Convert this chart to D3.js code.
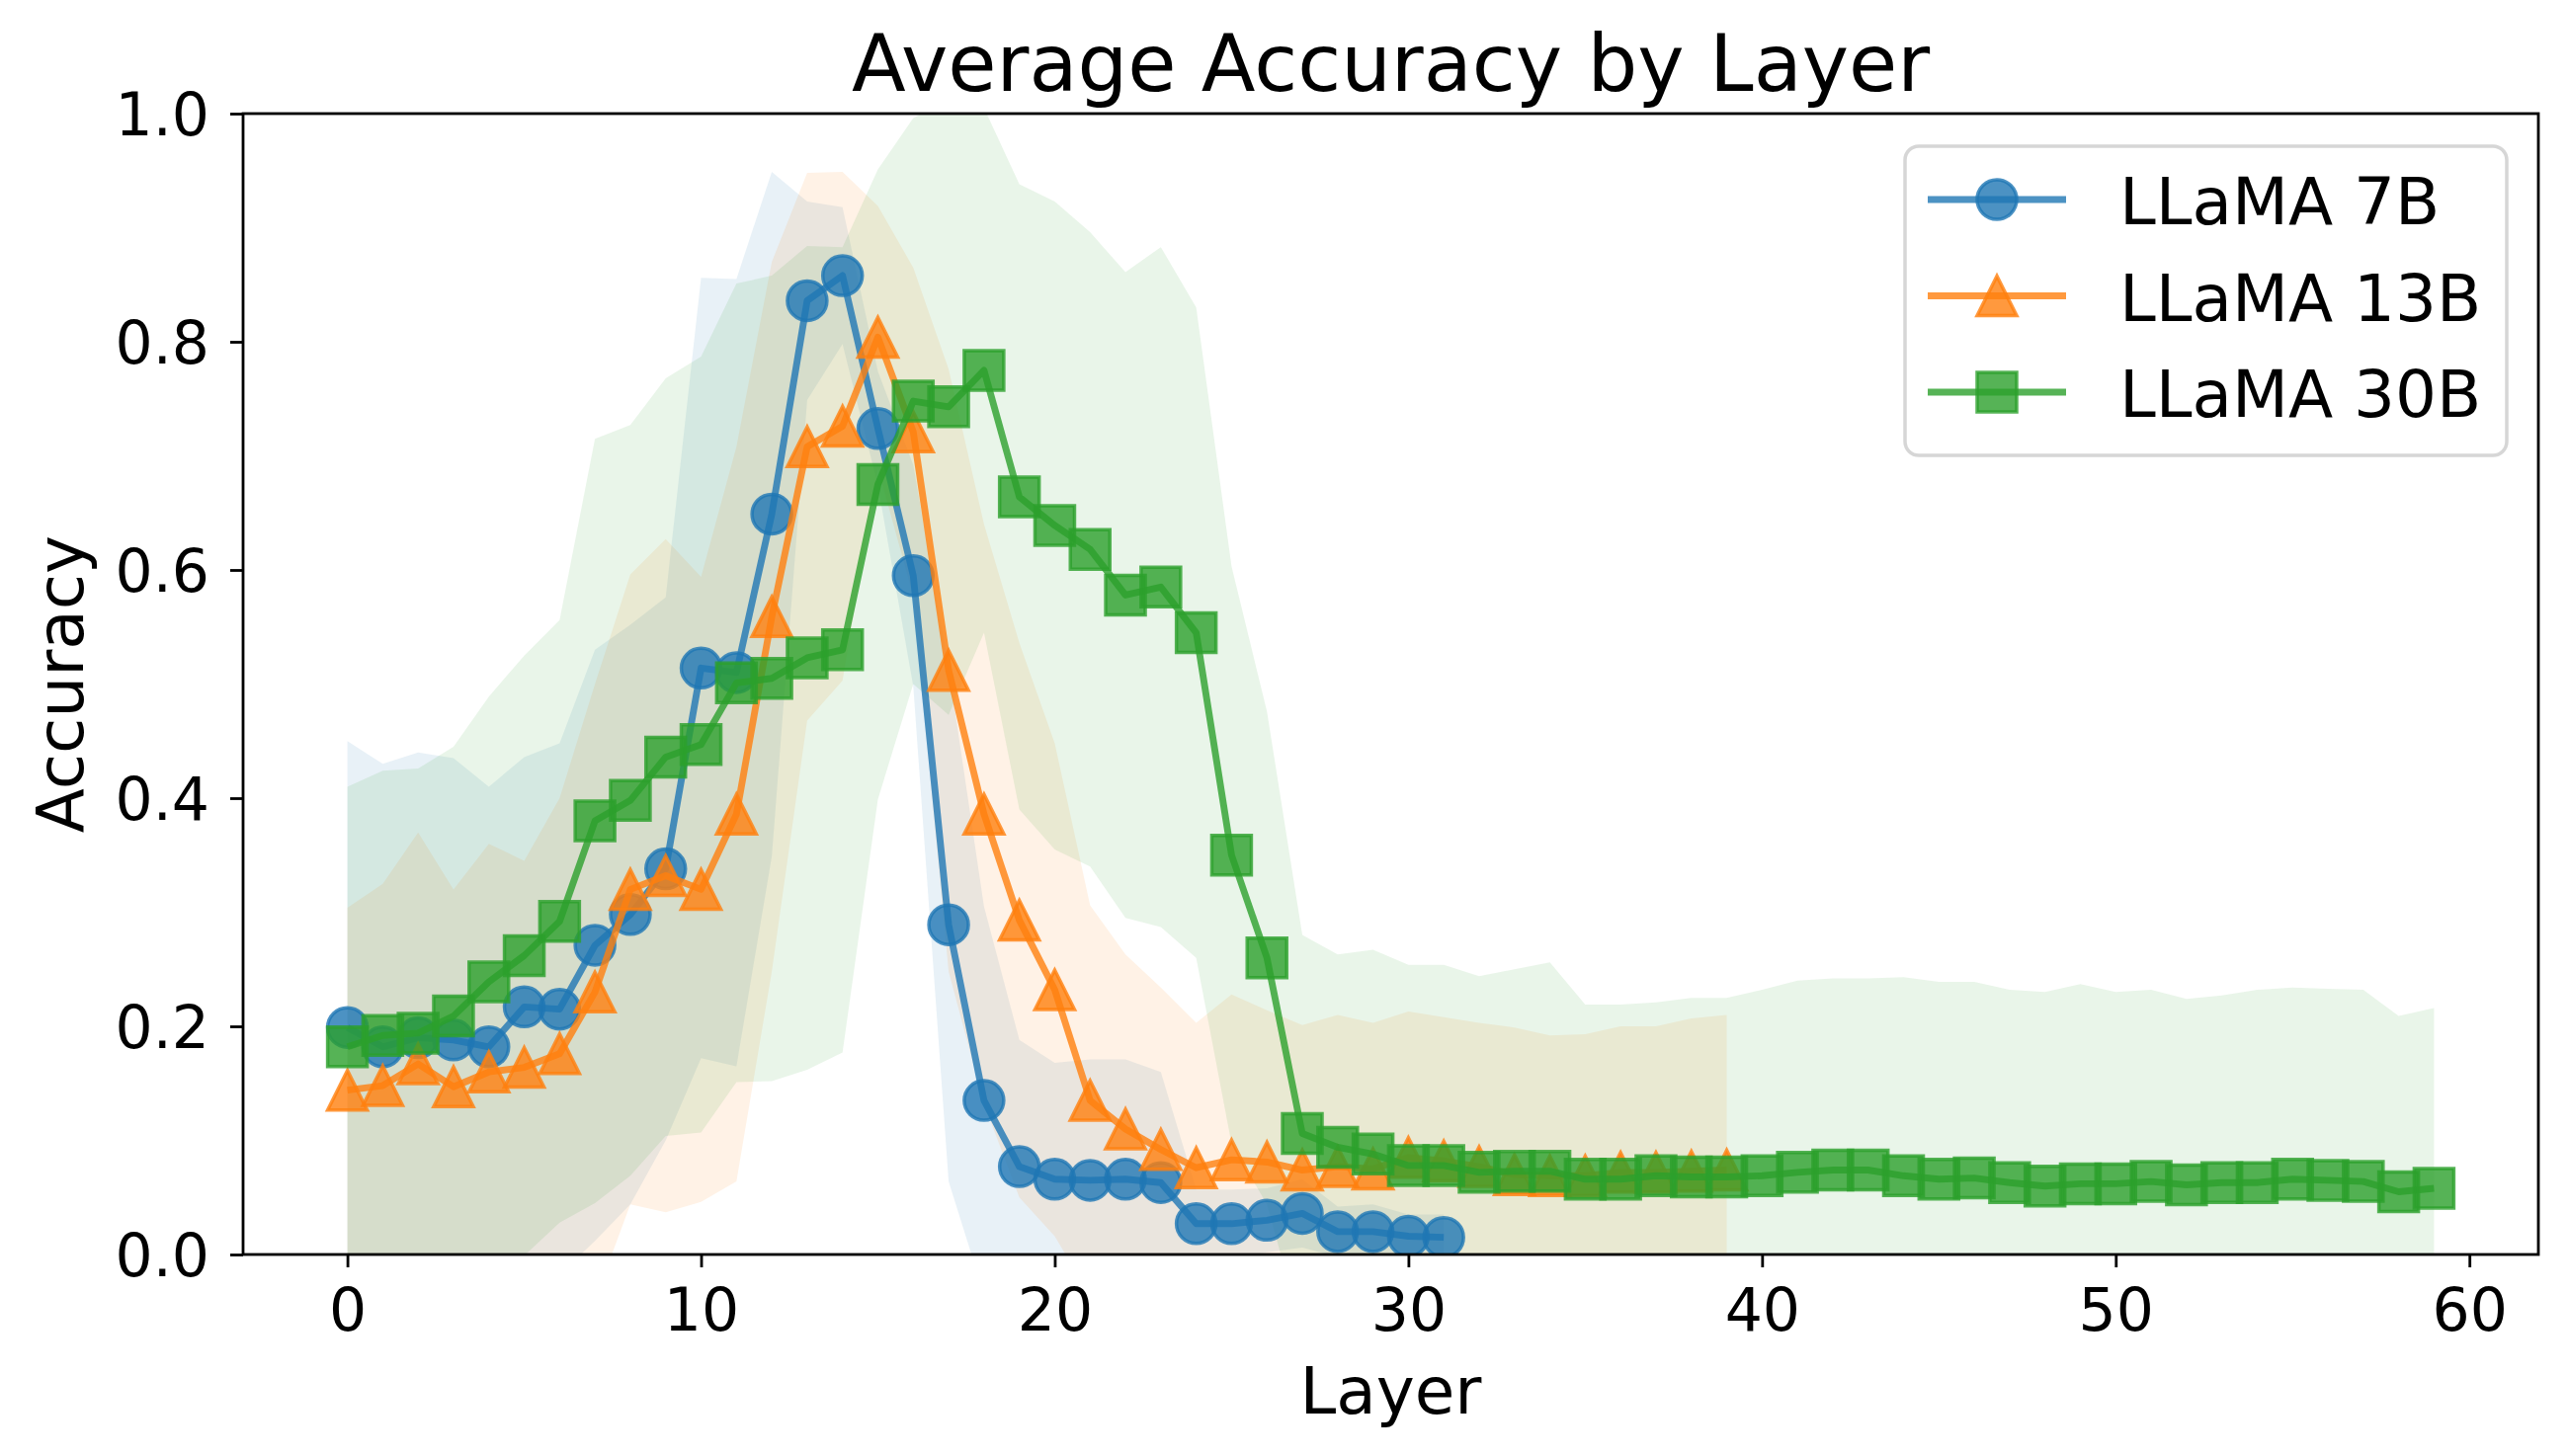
<!DOCTYPE html>
<html><head><meta charset="utf-8">
<script src="https://cdn.jsdelivr.net/npm/d3@7"></script>
<style>
body{margin:0;background:#fff;}
svg{display:block;}
text{font-family:"DejaVu Sans",sans-serif;fill:#000;}
</style>
</head><body>
<script>
// ---------- data ----------
const seriesNames = ["LLaMA 7B", "LLaMA 13B", "LLaMA 30B"];

const acc7B = [0.199, 0.182, 0.190, 0.188, 0.182, 0.217, 0.215, 0.271, 0.298, 0.338,
  0.514, 0.510, 0.649, 0.836, 0.858, 0.724, 0.595, 0.289, 0.135, 0.077,
  0.066, 0.065, 0.066, 0.063, 0.027, 0.027, 0.030, 0.036, 0.020, 0.020,
  0.016, 0.015];
const std7B = [0.251, 0.248, 0.250, 0.247, 0.228, 0.219, 0.233, 0.259, 0.254, 0.238,
  0.342, 0.345, 0.300, 0.087, 0.060, 0.050, 0.097, 0.225, 0.170, 0.111,
  0.102, 0.106, 0.105, 0.097, 0.030, 0.030, 0.028, 0.030, 0.022, 0.024,
  0.019, 0.020];

const acc13B = [0.144, 0.148, 0.167, 0.147, 0.160, 0.164, 0.176, 0.230, 0.320, 0.332,
  0.320, 0.386, 0.559, 0.708, 0.726, 0.804, 0.721, 0.512, 0.386, 0.293,
  0.232, 0.135, 0.110, 0.092, 0.076, 0.083, 0.081, 0.074, 0.077, 0.075,
  0.085, 0.082, 0.077, 0.070, 0.069, 0.069, 0.072, 0.072, 0.073, 0.074];
const std13B = [0.160, 0.177, 0.203, 0.173, 0.200, 0.181, 0.224, 0.270, 0.276, 0.295,
  0.274, 0.322, 0.311, 0.240, 0.223, 0.115, 0.144, 0.264, 0.254, 0.243,
  0.216, 0.171, 0.153, 0.142, 0.127, 0.145, 0.133, 0.127, 0.133, 0.128,
  0.128, 0.126, 0.126, 0.129, 0.123, 0.124, 0.128, 0.128, 0.134, 0.136];

const acc30B = [0.182, 0.192, 0.194, 0.209, 0.239, 0.262, 0.292, 0.380, 0.398, 0.436,
  0.447, 0.501, 0.505, 0.523, 0.530, 0.675, 0.748, 0.743, 0.775, 0.664,
  0.639, 0.618, 0.578, 0.585, 0.545, 0.350, 0.260, 0.106, 0.094, 0.088,
  0.078, 0.078, 0.072, 0.073, 0.073, 0.066, 0.066, 0.069, 0.068, 0.068,
  0.069, 0.072, 0.074, 0.074, 0.069, 0.066, 0.067, 0.063, 0.060, 0.062,
  0.062, 0.064, 0.061, 0.063, 0.063, 0.066, 0.065, 0.064, 0.055, 0.058];
const std30B = [0.228, 0.232, 0.232, 0.236, 0.250, 0.263, 0.264, 0.335, 0.329, 0.332,
  0.340, 0.350, 0.353, 0.361, 0.353, 0.276, 0.248, 0.270, 0.230, 0.274,
  0.284, 0.278, 0.283, 0.298, 0.285, 0.253, 0.216, 0.174, 0.169, 0.179,
  0.176, 0.176, 0.172, 0.177, 0.183, 0.153, 0.153, 0.152, 0.157, 0.157,
  0.163, 0.168, 0.168, 0.168, 0.174, 0.173, 0.172, 0.169, 0.170, 0.175,
  0.168, 0.168, 0.163, 0.164, 0.169, 0.168, 0.168, 0.168, 0.154, 0.158];

const xTicks = [0, 10, 20, 30, 40, 50, 60];
const yTicks = [0.0, 0.2, 0.4, 0.6, 0.8, 1.0];
const colors = ["#1f77b4", "#ff7f0e", "#2ca02c"];
const markers = ["circle", "triangle", "square"];

// ---------- layout ----------
const W = 2600, H = 1474;
const L = 246, R = 2569, T = 115, B = 1270;
const LW = 6.9, MS = 40, MEW = 3.5;

const series = [
  {name: seriesNames[0], acc: acc7B, std: std7B, color: colors[0], marker: markers[0]},
  {name: seriesNames[1], acc: acc13B, std: std13B, color: colors[1], marker: markers[1]},
  {name: seriesNames[2], acc: acc30B, std: std30B, color: colors[2], marker: markers[2]}
];

const x = d3.scaleLinear().domain([-2.95, 61.95]).range([L, R]);
const y = d3.scaleLinear().domain([0, 1]).range([B, T]);

const svg = d3.select("body").append("svg")
  .attr("width", W).attr("height", H).attr("viewBox", `0 0 ${W} ${H}`);

svg.append("defs").append("clipPath").attr("id", "plotclip")
  .append("rect").attr("x", L).attr("y", T).attr("width", R - L).attr("height", B - T);

const plot = svg.append("g").attr("clip-path", "url(#plotclip)");

function markerPath(type, s) {
  const h = s / 2;
  if (type === "circle") return d3.arc()({innerRadius: 0, outerRadius: h, startAngle: 0, endAngle: 2 * Math.PI});
  if (type === "triangle") return `M0,${-h}L${-h},${h}L${h},${h}Z`;
  return `M${-h},${-h}L${h},${-h}L${h},${h}L${-h},${h}Z`;
}

// bands
series.forEach(s => {
  const pts = s.acc.map((m, i) => ({i, m, sd: s.std[i]}));
  const area = d3.area().x(d => x(d.i)).y0(d => y(d.m - d.sd)).y1(d => y(d.m + d.sd));
  plot.append("path").datum(pts).attr("d", area)
    .attr("fill", s.color).attr("fill-opacity", 0.1).attr("stroke", "none");
});

// lines and markers
series.forEach(s => {
  const pts = s.acc.map((m, i) => ({i, m}));
  const line = d3.line().x(d => x(d.i)).y(d => y(d.m));
  const g = plot.append("g");
  g.append("path").datum(pts).attr("d", line)
    .attr("fill", "none").attr("stroke", s.color).attr("stroke-opacity", 0.8)
    .attr("stroke-width", LW).attr("stroke-linejoin", "round").attr("stroke-linecap", "butt");
  g.selectAll("path.mk").data(pts).enter().append("path").attr("class", "mk")
    .attr("d", markerPath(s.marker, MS))
    .attr("transform", d => `translate(${x(d.i)},${y(d.m)})`)
    .attr("fill", s.color).attr("fill-opacity", 0.8)
    .attr("stroke", s.color).attr("stroke-opacity", 0.8)
    .attr("stroke-width", MEW).attr("stroke-linejoin", "miter");
});

// axes
const xAxis = d3.axisBottom(x).tickValues(xTicks).tickFormat(d3.format("d"))
  .tickSizeInner(13).tickSizeOuter(0).tickPadding(21);
const gx = svg.append("g").attr("transform", `translate(0,${B})`).call(xAxis);
gx.select(".domain").remove();
gx.selectAll(".tick line").attr("stroke", "#000").attr("stroke-width", 2.8);
gx.selectAll(".tick text").attr("font-size", 60).attr("font-family", "DejaVu Sans").attr("fill", "#000");

const yAxis = d3.axisLeft(y).tickValues(yTicks).tickFormat(d3.format(".1f"))
  .tickSizeInner(13).tickSizeOuter(0).tickPadding(21);
const gy = svg.append("g").attr("transform", `translate(${L},0)`).call(yAxis);
gy.select(".domain").remove();
gy.selectAll(".tick line").attr("stroke", "#000").attr("stroke-width", 2.8);
gy.selectAll(".tick text").attr("font-size", 60).attr("font-family", "DejaVu Sans").attr("fill", "#000").attr("dy", "0.36em");

// spines
svg.append("rect").attr("x", L).attr("y", T).attr("width", R - L).attr("height", B - T)
  .attr("fill", "none").attr("stroke", "#000").attr("stroke-width", 2.8);

// title & labels
svg.append("text").attr("x", (L + R) / 2).attr("y", 92).attr("text-anchor", "middle")
  .attr("font-size", 80).text("Average Accuracy by Layer");
svg.append("text").attr("x", (L + R) / 2).attr("y", 1431).attr("text-anchor", "middle")
  .attr("font-size", 66).text("Layer");
svg.append("text").attr("transform", `translate(84,${(T + B) / 2}) rotate(-90)`)
  .attr("text-anchor", "middle").attr("font-size", 66).text("Accuracy");

// legend
const lg = svg.append("g");
lg.append("rect").attr("x", 1928).attr("y", 148).attr("width", 609).attr("height", 313)
  .attr("rx", 14).attr("ry", 14)
  .attr("fill", "#fff").attr("fill-opacity", 0.8)
  .attr("stroke", "#cccccc").attr("stroke-opacity", 0.8).attr("stroke-width", 3.5);
const rowY = [202, 299.5, 397];
series.forEach((s, k) => {
  const ry = rowY[k];
  lg.append("line").attr("x1", 1951).attr("x2", 2091).attr("y1", ry).attr("y2", ry)
    .attr("stroke", s.color).attr("stroke-opacity", 0.8).attr("stroke-width", LW);
  lg.append("path").attr("d", markerPath(s.marker, MS))
    .attr("transform", `translate(2021,${ry})`)
    .attr("fill", s.color).attr("fill-opacity", 0.8)
    .attr("stroke", s.color).attr("stroke-opacity", 0.8).attr("stroke-width", MEW);
  lg.append("text").attr("x", 2145).attr("y", ry + 25).attr("font-size", 66).text(s.name);
});
</script>
</body></html>
